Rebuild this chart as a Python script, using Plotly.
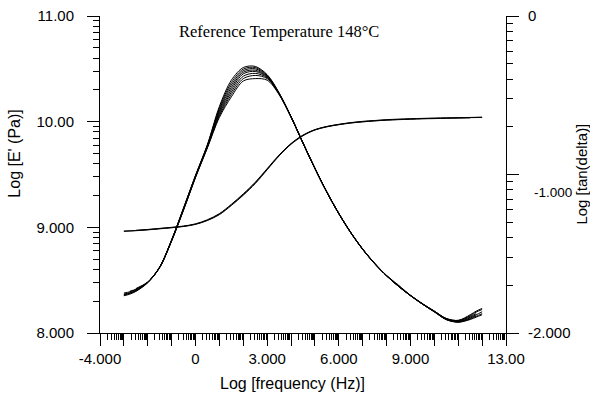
import numpy as np
import plotly.graph_objects as go

# ---------------- data ----------------
# log frequency grid for tan(delta) curves
td_x = [-3.0, -2.75, -2.5, -2.0, -1.5, -1.0, -0.5, 0.0, 0.5, 1.0, 1.5, 2.0, 2.5, 3.0,
        3.5, 4.0, 4.5, 5.0, 5.5, 6.0, 6.5, 7.0, 7.5, 8.0, 8.5, 9.0, 9.5, 10.0, 10.5,
        11.0, 11.5, 11.75, 12.0]

td_1 = [-1.755, -1.745, -1.730, -1.680, -1.583, -1.412, -1.210, -1.005, -0.810, -0.570, -0.405,
        -0.325, -0.318, -0.370, -0.485, -0.635, -0.800, -0.960, -1.110, -1.245, -1.365, -1.470,
        -1.560, -1.637, -1.703, -1.762, -1.815, -1.862, -1.908, -1.920, -1.885, -1.862, -1.845]
td_2 = [-1.762, -1.750, -1.733, -1.681, -1.584, -1.413, -1.212, -1.007, -0.813, -0.580, -0.420,
        -0.335, -0.325, -0.374, -0.487, -0.635, -0.800, -0.960, -1.110, -1.245, -1.365, -1.470,
        -1.560, -1.637, -1.698, -1.762, -1.815, -1.862, -1.909, -1.921, -1.890, -1.868, -1.852]
td_3 = [-1.748, -1.740, -1.727, -1.680, -1.584, -1.414, -1.214, -1.009, -0.816, -0.590, -0.435,
        -0.345, -0.333, -0.378, -0.489, -0.636, -0.801, -0.961, -1.111, -1.246, -1.366, -1.471,
        -1.561, -1.638, -1.704, -1.763, -1.816, -1.863, -1.910, -1.924, -1.895, -1.878, None]
td_4 = [None, -1.736, -1.724, -1.679, -1.585, -1.415, -1.216, -1.011, -0.819, -0.600, -0.450,
        -0.355, -0.342, -0.382, -0.490, -0.636, -0.801, -0.961, -1.111, -1.246, -1.366, -1.471,
        -1.561, -1.638, -1.704, -1.763, -1.816, -1.864, -1.912, -1.926, -1.900, -1.885, -1.866]
td_5 = [None, None, -1.720, -1.678, -1.585, -1.416, -1.218, -1.013, -0.822, -0.610, -0.465,
        -0.365, -0.350, -0.386, -0.491, -0.637, -0.802, -0.962, -1.112, -1.247, -1.367, -1.472,
        -1.562, -1.639, -1.705, -1.764, -1.817, -1.865, -1.913, -1.928, -1.905, -1.890, None]
td_6 = [-1.758, -1.748, -1.735, -1.682, -1.586, -1.417, -1.220, -1.015, -0.825, -0.620, -0.480,
        -0.380, -0.362, -0.390, -0.492, -0.637, -0.802, -0.962, -1.112, -1.247, -1.367, -1.472,
        -1.562, -1.639, -1.705, -1.764, -1.817, -1.866, -1.914, -1.930, -1.910, -1.895, -1.878]
td_7 = [None, None, -1.724, -1.680, -1.586, -1.418, -1.222, -1.017, -0.828, -0.630, -0.495,
        -0.395, -0.375, -0.395, -0.494, -0.638, -0.803, -0.963, -1.113, -1.248, -1.368, -1.473,
        -1.563, -1.640, -1.706, -1.765, -1.818, -1.866, -1.915, -1.931, -1.912, None, None]
td_8 = [-1.765, -1.755, -1.738, -1.683, -1.587, -1.419, -1.224, -1.019, -0.831, -0.640, -0.510,
        -0.410, -0.395, -0.405, -0.496, -0.638, -0.803, -0.963, -1.113, -1.248, -1.368, -1.473,
        -1.563, -1.640, -1.706, -1.765, -1.818, -1.867, -1.916, -1.932, -1.915, -1.900, -1.885]
td_curves = [td_1, td_2, td_3, td_4, td_5, td_6, td_7, td_8]

# log frequency grid for storage modulus curves
e_x = [-3.0, -2.5, -2.0, -1.5, -1.0, -0.5, 0.0, 0.5, 1.0, 1.5, 2.0, 2.5, 3.0, 3.5, 4.0,
       4.5, 5.0, 5.5, 6.0, 6.5, 7.0, 7.5, 8.0, 8.5, 9.0, 9.5, 10.0, 10.5, 11.0, 11.5, 12.0]
e_1 = [8.965, 8.970, 8.978, 8.988, 8.998, 9.010, 9.030, 9.068, 9.125, 9.212, 9.310, 9.420,
       9.550, 9.680, 9.790, 9.870, 9.923, 9.953, 9.973, 9.989, 10.000, 10.009, 10.016, 10.021,
       10.025, 10.029, 10.031, 10.034, 10.036, 10.038, 10.040]
e_2 = [None, 8.972, 8.980, 8.990, 9.000, 9.012, 9.033, 9.072, 9.130, 9.218, 9.317, 9.427,
       9.556, 9.685, 9.794, 9.873, 9.925, 9.955, 9.975, 9.991, 10.003, 10.011, 10.019, 10.024,
       10.028, 10.031, 10.034, 10.036, 10.038, 10.040, 10.043]
e_3 = [8.962, 8.968, 8.976, 8.986, 8.996, 9.008, 9.028, 9.065, 9.120, 9.207, 9.304, 9.414,
       9.545, 9.676, 9.786, 9.867, 9.921, 9.951, 9.971, 9.987, 9.998, 10.007, 10.014, 10.019,
       10.023, 10.027, 10.029, 10.032, 10.034, 10.036, None]
e_curves = [e_1, e_2, e_3]

# axis ticks
x_major = list(range(-4, 14))
x_labels = {-4: "-4.000", 0: "0", 3: "3.000", 6: "6.000", 9: "9.000", 13: "13.00"}
yl_major = [8, 9, 10, 11]
yl_labels = ["8.000", "9.000", "10.00", "11.00"]
yr_major = [-2, -1, 0]
yr_labels = ["-2.000", "", "0"]
yr_mid_label = "-1.000"   # drawn slightly below its tick, as in the original


def log_minor(lo, hi):
    return [d + np.log10(k) for d in range(lo, hi) for k in range(2, 10)]


fig = go.Figure()
for c in td_curves:
    fig.add_trace(go.Scatter(x=td_x, y=c, mode="lines", yaxis="y2",
                             line=dict(color="black", width=1.0, shape="spline", smoothing=0.9),
                             showlegend=False, hoverinfo="skip"))
for c in e_curves:
    fig.add_trace(go.Scatter(x=e_x, y=c, mode="lines", yaxis="y",
                             line=dict(color="black", width=1.0, shape="spline", smoothing=0.9),
                             showlegend=False, hoverinfo="skip"))

tickfont = dict(family="Liberation Sans, Arial, sans-serif", size=15, color="black")
fig.update_layout(
    width=590, height=396,
    margin=dict(l=100, r=84, t=16, b=63),
    paper_bgcolor="white", plot_bgcolor="white",
    font=tickfont,
    xaxis=dict(range=[-4, 13], showgrid=False, zeroline=False, showline=True, automargin=False,
               linecolor="black", linewidth=1, ticks="outside", ticklen=12,
               tickwidth=1, tickcolor="black", tickmode="array", tickvals=x_major,
               ticktext=[x_labels.get(v, "") for v in x_major], tickfont=tickfont,
               minor=dict(tickmode="array", tickvals=log_minor(-4, 13), ticks="outside",
                          ticklen=6, tickwidth=1, tickcolor="black", showgrid=False)),
    yaxis=dict(range=[8, 11], showgrid=False, zeroline=False, showline=True, automargin=False,
               linecolor="black", linewidth=1, ticks="outside", ticklen=12,
               tickwidth=1, tickcolor="black", tickmode="array", tickvals=yl_major,
               ticktext=yl_labels, tickfont=tickfont, ticklabelstandoff=10,
               minor=dict(tickmode="array", tickvals=log_minor(8, 11), ticks="outside",
                          ticklen=6, tickwidth=1, tickcolor="black", showgrid=False)),
    yaxis2=dict(range=[-2, 0], overlaying="y", side="right", showgrid=False, zeroline=False,
                showline=True, automargin=False, linecolor="black", linewidth=1,
                ticks="outside", ticklen=12,
                tickwidth=1, tickcolor="black", tickmode="array", tickvals=yr_major,
                ticktext=yr_labels, tickfont=tickfont, ticklabelstandoff=6,
                minor=dict(tickmode="array", tickvals=log_minor(-2, 0), ticks="outside",
                           ticklen=6, tickwidth=1, tickcolor="black", showgrid=False)),
)

fig.add_annotation(text=yr_mid_label, xref="paper", yref="paper",
                   x=1.064, y=0.442, xanchor="left", yanchor="middle", showarrow=False,
                   font=dict(family="Liberation Sans, Arial, sans-serif", size=13.5,
                             color="black"))
fig.add_annotation(text="Reference Temperature 148°C", xref="paper", yref="paper",
                   x=0.44, y=0.95, xanchor="center", yanchor="middle", showarrow=False,
                   font=dict(family="Liberation Serif, Times New Roman, serif", size=16.5,
                             color="black"))
fig.add_annotation(text="Log [frequency (Hz)]", xref="paper", yref="paper",
                   x=0.475, y=-0.158, xanchor="center", yanchor="middle", showarrow=False,
                   font=dict(size=16, color="black"))
fig.add_annotation(text="Log [E' (Pa)]", xref="paper", yref="paper",
                   x=-0.21, y=0.565, xanchor="center", yanchor="middle", showarrow=False,
                   textangle=-90, font=dict(size=16, color="black"))
fig.add_annotation(text="Log [tan(delta)]", xref="paper", yref="paper",
                   x=1.185, y=0.50, xanchor="center", yanchor="middle", showarrow=False,
                   textangle=-90, font=dict(size=15, color="black"))

fig.write_html("out.html")
